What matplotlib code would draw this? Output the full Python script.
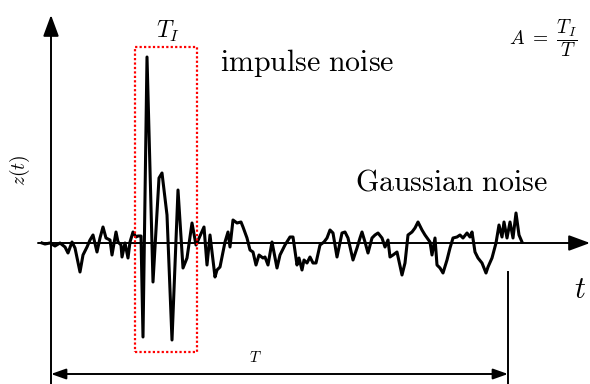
import numpy as np
import matplotlib
matplotlib.use('Agg')
import matplotlib.pyplot as plt
from matplotlib.patches import Rectangle

plt.rcParams['mathtext.fontset'] = 'cm'

# sampled noise record z(t)
t = [42, 45, 50, 55, 60, 65, 68, 72, 75, 80, 83, 87, 90, 93, 97, 100, 103, 106, 110, 112,
     116, 118, 121, 122, 125, 128, 130, 133, 136, 138, 141, 143, 147, 153, 159, 162, 167, 172,
     178, 183, 187, 192, 196, 200, 204, 207, 210, 215, 217, 220, 225, 228, 230, 233, 237, 241,
     243, 247, 250, 253, 256, 259, 263, 265, 268, 272, 277, 280, 285, 290, 293, 297, 299, 302,
     304, 307, 310, 313, 316, 320, 324, 327, 330, 333, 337, 342, 345, 348, 353, 357, 360, 362,
     365, 368, 372, 375, 378, 382, 385, 388, 390, 393, 397, 402, 405, 408, 412, 415, 418, 422,
     425, 430, 432, 435, 437, 440, 443, 447, 450, 453, 457, 460, 463, 467, 470, 472, 475, 478,
     482, 486, 488, 492, 496, 499, 502, 504, 507, 510, 513, 516, 519, 522]
z = [0, -1, 0, -3, 0, -4, -10, 1, -5, -29, -12, -4, 3, 8, -9, 5, 16, 5, 3, -12,
     11, 1, -2, -14, 0, -15, 1, 11, 6, 7, 7, -94, 186, -39, 65, 70, 28, -97,
     53, -25, -15, 20, -2, 7, 16, -22, 8, -34, -27, -24, 1, 11, -4, 23, 20, 21,
     16, 5, -7, -9, -22, -12, -15, -14, -22, 1, -25, -12, -2, 6, 6, -22, -15, -27,
     -17, -20, -14, -20, -20, -2, 1, 5, 13, 10, -14, 10, 11, 5, -17, -5, 5, 11,
     1, -10, 5, 8, 10, 5, -4, 3, -14, -12, -9, -32, -20, 8, 11, 15, 21, 13,
     8, 1, -12, 5, -22, -25, -30, -17, -5, 5, 6, 8, 5, 10, 6, 11, -9, -15,
     -20, -30, -24, -15, 0, 18, 6, 21, 5, 21, 5, 30, 8, 1]

# impulse window and record length
win_t = [135, 197]
win_z = [-109, 196]
T_end = 508

fig = plt.figure(figsize=(5.9, 3.84), dpi=100)
ax = fig.add_axes([0, 0, 1, 1])
ax.set_xlim(0, 590)
ax.set_ylim(-141, 243)
ax.axis('off')

arr = dict(color='black', lw=1.4, shrinkA=0, shrinkB=0, mutation_scale=20)

# axes with arrows
ax.annotate('', xy=(590, 0), xytext=(38, 0),
            arrowprops=dict(arrowstyle='-|>,head_length=0.65,head_width=0.24', **arr))
ax.annotate('', xy=(51, 228), xytext=(51, -141),
            arrowprops=dict(arrowstyle='-|>,head_length=0.65,head_width=0.24', **arr))

# noise signal
ax.plot(t, z, color='black', lw=2.2, solid_joinstyle='round', zorder=3)

# impulse window
ax.add_patch(Rectangle((win_t[0], win_z[0]), win_t[1] - win_t[0], win_z[1] - win_z[0],
                       fill=False, edgecolor='red', lw=1.6, linestyle=(0, (1, 1)), zorder=4))

# record length marker
ax.plot([T_end, T_end], [-29, -141], color='black', lw=1.4)
ax.annotate('', xy=(51, -131), xytext=(T_end, -131),
            arrowprops=dict(arrowstyle='<|-|>,head_length=0.45,head_width=0.16', **arr))

ax.text(255, -114, r'$T$', fontsize=11, ha='center', va='center')
ax.text(168, 212, r'$T_I$', fontsize=17, ha='center', va='center')
ax.text(220, 180, r'$\mathrm{impulse\ noise}$', fontsize=21.5, ha='left', va='center')
ax.text(355, 61, r'$\mathrm{Gaussian\ noise}$', fontsize=21.5, ha='left', va='center')
ax.text(580, -47, r'$t$', fontsize=22, ha='center', va='center')
ax.text(20, 73, r'$z(t)$', fontsize=14, ha='center', va='center', rotation=90)
ax.text(543, 205, r'$A\ =\ \dfrac{T_I}{T}$', fontsize=14, ha='center', va='center')

fig.savefig('out.png', dpi=100)
